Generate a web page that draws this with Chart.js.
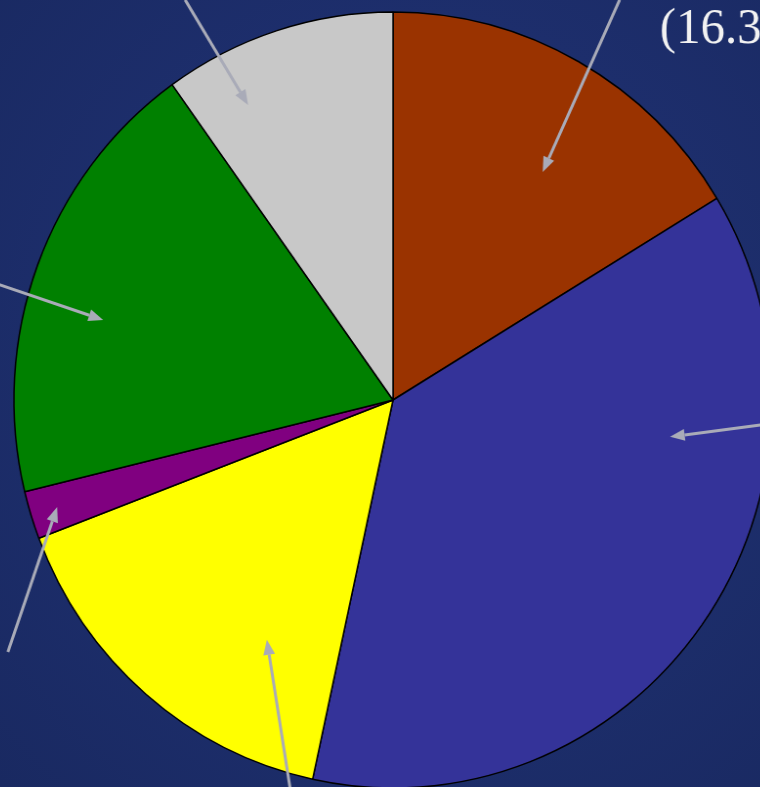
<!DOCTYPE html>
<html><head><meta charset="utf-8">
<script src="https://cdn.jsdelivr.net/npm/chart.js@4/dist/chart.umd.min.js"></script>
<style>
html,body{margin:0;padding:0;width:760px;height:787px;overflow:hidden;}
body{background:radial-gradient(ellipse at 55% 45%, #22347a 0%, #1d2e6c 55%, #192961 100%);}
#wrap{position:absolute;left:-30px;top:0;width:860px;height:800px;transform:scaleX(0.977);transform-origin:423px 0;}
</style></head>
<body><div id="wrap"><canvas id="c"></canvas></div>
<script>
// ---- data ----
const categories = ['Brown', 'Blue', 'Yellow', 'Purple', 'Green', 'Gray'];
const values = [16.3, 37.1, 15.8, 2.0, 18.9, 9.9];
const valueLabels = ['(16.3%)', '', '', '(2.0%)', '', ''];
const colors = ['#9a3300', '#343399', '#ffff00', '#800080', '#008000', '#c8c8c8'];

// leader arrows, polar relative to pie centre: [tipAngleDeg, tipRadiusFrac, tailAngleDeg, tailRadiusFrac]
const leaderGeom = [
  [33.9, 0.708, 30.1, 1.192],
  [97.4, 0.737, 92.7, 1.075],
  [208.3, 0.702, 194.5, 1.065],
  [252.7, 0.928, 237.4, 1.206],
  [285.1, 0.792, 286.2, 1.19],
  [333.3, 0.851, 332.0, 1.168]
];
// text anchors (canvas px) for the visible label fragments
const textPos = [[696, 43, 'left'], null, null, null, [30, 710, 'right'], null];

function polar(cx, cy, r, deg, f) {
  const a = (deg - 90) * Math.PI / 180;
  return [cx + Math.cos(a) * r * f, cy + Math.sin(a) * r * f];
}

const leaderPlugin = {
  id: 'leaders',
  afterDatasetsDraw(chart) {
    const ctx = chart.ctx;
    const arc = chart.getDatasetMeta(0).data[0];
    const cx = arc.x, cy = arc.y, R = arc.outerRadius;
    ctx.save();
    leaderGeom.forEach(g => {
      const tip = polar(cx, cy, R, g[0], g[1]);
      const tail = polar(cx, cy, R, g[2], g[3]);
      const ang = Math.atan2(tip[1] - tail[1], tip[0] - tail[0]);
      const hl = 15, hw = 6;
      const base = [tip[0] - Math.cos(ang) * hl, tip[1] - Math.sin(ang) * hl];
      ctx.strokeStyle = '#a9abb8';
      ctx.fillStyle = '#a9abb8';
      ctx.lineWidth = 3;
      ctx.beginPath();
      ctx.moveTo(tail[0], tail[1]);
      ctx.lineTo(base[0], base[1]);
      ctx.stroke();
      ctx.beginPath();
      ctx.moveTo(tip[0], tip[1]);
      ctx.lineTo(base[0] + Math.sin(ang) * hw, base[1] - Math.cos(ang) * hw);
      ctx.lineTo(base[0] - Math.sin(ang) * hw, base[1] + Math.cos(ang) * hw);
      ctx.closePath();
      ctx.fill();
    });
    ctx.font = '50px "Liberation Serif", "DejaVu Serif", serif';
    ctx.fillStyle = '#f2f2f2';
    ctx.textBaseline = 'alphabetic';
    valueLabels.forEach((t, i) => {
      if (!t || !textPos[i]) return;
      ctx.textAlign = textPos[i][2];
      ctx.fillText(t, textPos[i][0], textPos[i][1]);
    });
    ctx.restore();
  }
};

new Chart(document.getElementById('c'), {
  type: 'pie',
  data: {
    labels: categories,
    datasets: [{
      data: values,
      backgroundColor: colors,
      borderColor: '#000000',
      borderWidth: 1.5,
      radius: 388
    }]
  },
  options: {
    responsive: true,
    maintainAspectRatio: false,
    animation: false,
    rotation: 0,
    layout: { padding: { left: 35, right: 49, top: 12, bottom: 12 } },
    plugins: { legend: { display: false }, tooltip: { enabled: false }, title: { display: false } }
  },
  plugins: [leaderPlugin]
});
</script>
</body></html>
